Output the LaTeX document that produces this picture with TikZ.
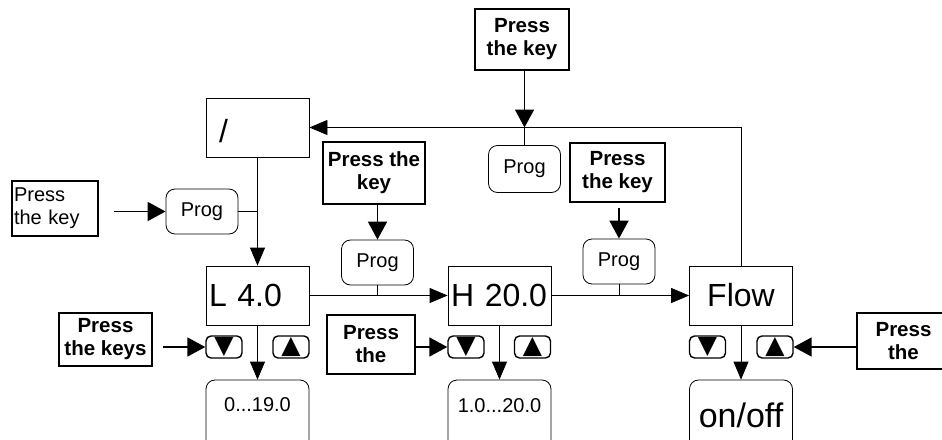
\documentclass[tikz,border=0pt]{standalone}
\usepackage{fontspec}
\setmainfont{Liberation Sans}
\newfontfamily\symfont{DejaVu Sans}
\usetikzlibrary{arrows.meta}

\tikzset{
	disp/.style={draw, line width=0.8pt, minimum width=103pt, minimum height=59pt, inner xsep=3pt, font=\fontsize{32}{38}\selectfont},
	prog/.style={draw, line width=0.8pt, rounded corners=9pt, minimum width=72pt, minimum height=45pt, font=\fontsize{20}{23}\selectfont},
	keybox/.style={draw, line width=1.7pt, align=center, inner sep=2pt, font=\fontsize{20.5}{23}\selectfont\bfseries},
	btn/.style={draw, line width=1.4pt, rounded corners=5pt, minimum width=36pt, minimum height=22pt, inner sep=0pt, font=\symfont\fontsize{25}{25}\selectfont},
	val/.style={draw, line width=0.8pt, rounded corners=9pt, minimum width=103pt, minimum height=70pt},
	link/.style={line width=0.8pt},
	flow/.style={link, -{Triangle[length=18pt,width=15pt]}},
	push/.style={line width=1.8pt, -{Triangle[length=18pt,width=19pt]}}
}

\begin{document}
\begin{tikzpicture}[x=1pt, y=-1pt]
		\useasboundingbox (0,0) rectangle (942,439);
		\clip (0,0) rectangle (942,439);
		\node[disp, text width=97pt, align=left, text height=30pt, text depth=0pt] (slash) at (257.5,127.5) {\hspace{10pt}/};
		\node[disp, text width=97pt, align=left] (L) at (257.5,295.5) {L 4.0};
		\node[disp, text width=97pt, align=left] (H) at (499.5,295.5) {H 20.0};
		\node[disp, align=center] (Flow) at (741,295.5) {Flow};
		\node[prog] (p0) at (202,211.5) {Prog};
		\node[prog] (p1) at (377.5,262.5) {Prog};
		\node[prog] (p2) at (619,261.5) {Prog};
		\node[prog, minimum height=47pt] (p3) at (524.5,169) {Prog};
		\node[keybox, minimum width=94pt, minimum height=61pt] (k3) at (522,39.5) {Press\\the key};
		\node[keybox, minimum width=102pt, minimum height=62pt] (k1) at (374,173) {Press the\\key};
		\node[keybox, minimum width=95pt, minimum height=59pt] (k2) at (617.5,172.5) {Press\\the key};
		\node[keybox, minimum width=93pt, minimum height=53pt] (kL) at (105.5,339.5) {Press\\the keys};
		\node[keybox, minimum width=88pt, minimum height=59pt] (kH) at (371,344.5) {Press\\the};
		\node[keybox, minimum width=93pt, minimum height=56pt] (kF) at (903.5,341) {Press\\the};
		\node[keybox, font=\fontsize{20}{23}\selectfont, align=left, text width=82pt, minimum height=55pt] (k0) at (55,208.5) {Press\\the key};
		\node[btn] (Ld) at (224,347) {▼};
		\node[btn] (Lu) at (291,347) {▲};
		\node[btn] (Hd) at (466,347) {▼};
		\node[btn] (Hu) at (532.5,347) {▲};
		\node[btn] (Fd) at (707.5,347) {▼};
		\node[btn] (Fu) at (775,347) {▲};
		\node[val, text depth=20pt, font=\fontsize{20}{23}\selectfont] (Lv) at (257.5,415) {0...19.0};
		\node[val, text depth=18pt, font=\fontsize{20}{23}\selectfont] (Hv) at (499.5,415) {1.0...20.0};
		\node[val, font=\fontsize{34}{40}\selectfont] (Fv) at (741,415) {on/off};
		\coordinate (j3) at (p3.north |- slash.east);
		\draw[flow] (Flow.north) |- (slash.east);
		\draw[flow] (slash.south) -- (L.north);
		\draw[flow] (L.east) -- (H.west);
		\draw[flow] (H.east) -- (Flow.west);
		\draw[flow] (L.south) -- (Lv.north);
		\draw[flow] (H.south) -- (Hv.north);
		\draw[flow] (Flow.south) -- (Fv.north);
		\draw[link] (p0.east) -- (p0.east -| slash.south);
		\draw[link] (p1.south) -- (p1.south |- L.east);
		\draw[link] (p2.south) -- (p2.south |- H.east);
		\draw[link] (j3) -- (p3.north);
		\draw[push] (k3.south -| p3.north) -- (j3);
		\draw[push] (k1.south -| p1.north) -- (p1.north);
		\draw[push, shorten <=5pt] (k2.south -| p2.north) -- (p2.north);
		\draw[push, shorten <=15pt] (k0.east |- p0.west) -- (p0.west);
		\draw[push, shorten <=10pt] (kL.east |- Ld.west) -- (Ld.west);
		\draw[push] (kH.east |- Hd.west) -- (Hd.west);
		\draw[push] (kF.west |- Fu.east) -- (Fu.east);
	\end{tikzpicture}
\end{document}
